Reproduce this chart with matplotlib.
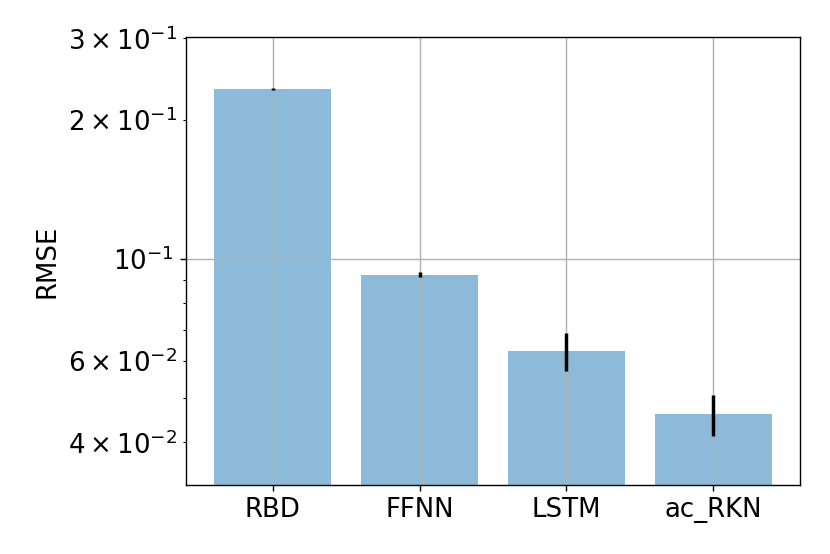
import matplotlib
matplotlib.use("Agg")
import matplotlib.pyplot as plt

# model names and their RMSE (mean, std)
models = ["RBD", "FFNN", "LSTM", "ac_RKN"]
rmse_mean = [0.233, 0.0923, 0.063, 0.046]
rmse_std = [0.001, 0.0012, 0.006, 0.0047]

fig = plt.figure(figsize=(6.64, 4.432), dpi=125)
ax = fig.add_axes([0.224, 0.125, 0.740, 0.808])

ax.bar(range(len(models)), rmse_mean, yerr=rmse_std, alpha=0.5,
       error_kw={'elinewidth': 2, 'ecolor': 'k'})
ax.set_yscale('log')
ax.set_ylim(0.0324, 0.302)
ax.set_xticks(range(len(models)))
ax.set_xticklabels(models)
ax.set_ylabel('RMSE', fontsize=15)
ax.tick_params(axis='both', which='both', labelsize=15)
ax.grid(True)

fig.savefig('out.png', dpi=125)
